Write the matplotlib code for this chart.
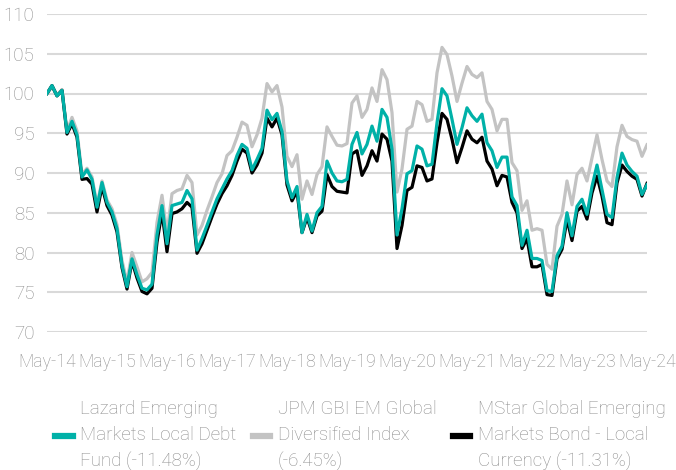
import numpy as np
import matplotlib
matplotlib.use("Agg")
import matplotlib.pyplot as plt

# monthly index values, May-14 = 100
fund = [100, 101, 99.7, 100.4, 95.1, 96.5, 94.8, 89.5, 90.4, 89.2,
        85.7, 88.8, 86.3, 85.1, 83, 78.4, 75.7, 79.2, 77.2, 75.5,
        75.3, 76, 82.2, 85.9, 81.1, 85.9, 86.1, 86.3, 87.8, 86.75,
        80.3, 81.75, 83.4, 85.1, 86.75, 88, 89.25, 90.3, 92.2, 93.6,
        93.1, 90.4, 91.7, 93.1, 97.9, 96.7, 97.5, 95.2, 89, 86.9,
        88.3, 82.5, 84.8, 82.7, 85, 85.8, 91.5, 90, 89, 88.9,
        89.2, 93.6, 95.1, 92.4, 93.6, 95.9, 94, 98, 97, 93,
        82.2, 85.5, 89.9, 90.3, 93.4, 93, 90.9, 91.1, 96.3, 100.6,
        99.7, 96.75, 93.6, 95.7, 98.2, 97.2, 96.5, 97.4, 93.8, 92.8,
        90.7, 92, 92, 87, 85.9, 80.9, 82.8, 79.25, 79.25, 79,
        75.2, 75.1, 79.6, 80.8, 85, 82.1, 85.8, 86.7, 84.8, 88.3,
        91, 87.9, 84.8, 84.4, 89.4, 92.5, 91, 90.2, 89.6, 87.3,
        88.52]

jpm = [100, 100.8, 99.8, 100.5, 95.3, 97, 95.3, 89.8, 90.6, 89.5,
       86, 89, 86.6, 85.5, 83.5, 79, 76.3, 80, 78.2, 76.3,
       76.7, 77.5, 83.8, 87.2, 82.4, 87.4, 87.8, 88, 89.7, 88.8,
       82.2, 83.4, 85.3, 87, 88.8, 89.9, 92.2, 92.8, 94.5, 96.4,
       96, 93.3, 94.8, 96.9, 101.25, 100.2, 101, 98.3, 92.1, 90.8,
       92.3, 86.7, 89, 87.3, 89.8, 90.8, 95.8, 94.6, 93.5, 93.4,
       93.7, 98.8, 99.7, 97, 98, 100.7, 99, 103, 101.75, 97.6,
       87.6, 90.5, 95.5, 95.9, 99, 98.6, 96.5, 96.75, 102.6, 105.8,
       104.9, 102.2, 99, 101.3, 103.4, 102.4, 102, 102.6, 99, 98,
       95.3, 96.75, 96.75, 91.3, 90.3, 85.3, 86.5, 82.8, 83, 82.8,
       78.5, 77.9, 83.3, 84.8, 89, 86, 89.8, 90.6, 89, 91.9,
       94.8, 91.7, 89, 88.3, 93.3, 96, 94.6, 94.2, 94, 92.1,
       93.55]

mstar = [100, 101, 99.7, 100.4, 94.9, 96.2, 94.5, 89.2, 89.3, 88.6,
         85.1, 88.3, 85.9, 84.7, 82.6, 78.1, 75.4, 78.9, 76.8, 75.1,
         74.8, 75.5, 81.3, 85.1, 80.1, 84.9, 85.1, 85.5, 86.3, 85.7,
         79.9, 81.1, 82.8, 84.5, 86.1, 87.4, 88.4, 89.7, 91.5, 93,
         92.5, 90, 91, 92.5, 96.9, 95.8, 96.9, 94.8, 88.5, 86.5,
         87.7, 82.5, 84.4, 82.5, 84.6, 85.2, 89.8, 88.3, 87.7, 87.6,
         87.5, 92.4, 92.8, 89.7, 90.9, 92.8, 91.5, 94.9, 94.25, 91.5,
         80.5, 83.4, 87.8, 88.2, 90.9, 90.7, 89, 89.25, 93.8, 97.5,
         96.75, 94.25, 91.3, 93.2, 95.3, 94.25, 93.8, 94.5, 91.5, 90.5,
         88.4, 89.7, 89.5, 86.3, 85, 80.5, 81.75, 78.2, 78.2, 78.5,
         74.7, 74.6, 79.2, 80.4, 84.2, 81.5, 85.2, 85.8, 84.2, 87.5,
         89.6, 87.1, 83.75, 83.5, 88.75, 91, 90.2, 89.6, 89.2, 87.1,
         88.69]

year_labels = ["May-14", "May-15", "May-16", "May-17", "May-18", "May-19",
               "May-20", "May-21", "May-22", "May-23", "May-24"]

labels = ["Lazard Emerging\nMarkets Local Debt\nFund (-11.48%)",
          "JPM GBI EM Global\nDiversified Index\n(-6.45%)",
          "MStar Global Emerging\nMarkets Bond - Local\nCurrency (-11.31%)"]

plt.rcParams["font.family"] = ["Roboto", "DejaVu Sans"]
plt.rcParams["font.weight"] = "light"
text_col = "#8c8c8c"
fsize = 13.5

fig = plt.figure(figsize=(6.76, 4.70), dpi=100)
ax = fig.add_axes([47 / 676, 1 - 332 / 470, 600 / 676, 318 / 470])

months = np.arange(len(fund))
l1, = ax.plot(months, fund, color="#00b1a8", lw=2.3, zorder=3)
l2, = ax.plot(months, jpm, color="#c3c3c3", lw=2.3, zorder=1)
l3, = ax.plot(months, mstar, color="black", lw=2.3, zorder=2)

ax.set_xlim(0, 120)
ax.set_ylim(70, 110)
ax.set_yticks(np.arange(70, 111, 5))
ax.set_xticks(np.arange(0, 121, 12))
ax.set_xticklabels(year_labels)
ax.grid(axis="y", color="#d9d9d9", lw=1.5)
ax.set_axisbelow(True)
for s in ax.spines.values():
    s.set_visible(False)
ax.tick_params(length=0, labelsize=fsize, labelcolor=text_col)
ax.tick_params(axis="y", pad=9)
ax.tick_params(axis="x", pad=15, labelsize=12.8)

leg = fig.legend([l1, l2, l3], labels, loc="upper left",
                 bbox_to_anchor=(55 / 676, 1 - 400 / 470), ncol=3,
                 frameon=False, fontsize=fsize, labelcolor=text_col,
                 handlelength=0.95, handletextpad=0.4, columnspacing=0.85,
                 borderaxespad=0, borderpad=0)
for t in leg.get_texts():
    t.set_linespacing(1.55)
for h in leg.get_lines():
    h.set_linewidth(4.5)

fig.savefig("out.png", dpi=100)
